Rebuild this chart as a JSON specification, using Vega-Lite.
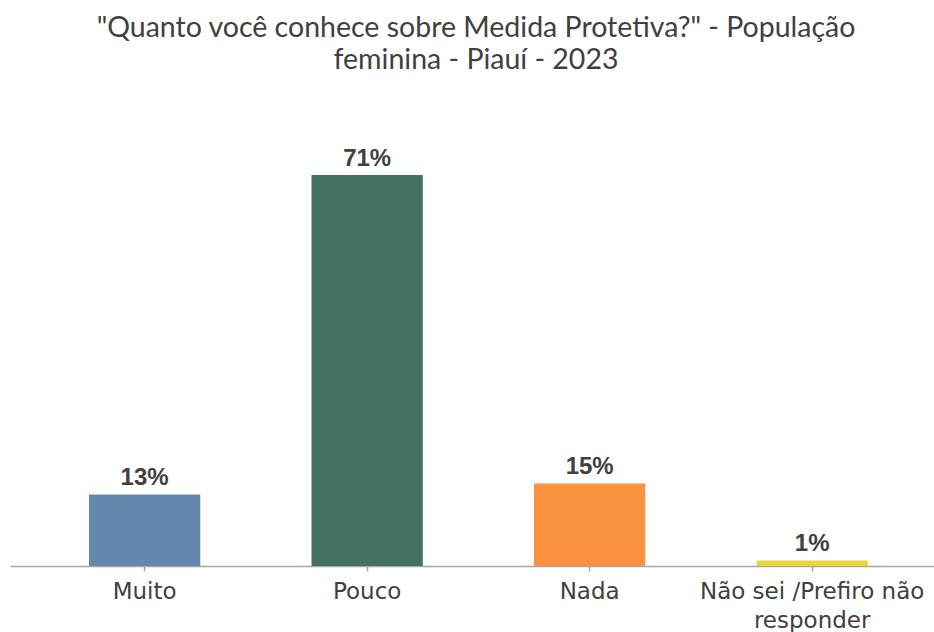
{
  "$schema": "https://vega.github.io/schema/vega-lite/v6.json",
  "autosize": "none",
  "width": 924,
  "height": 495.6,
  "padding": {"left": 10, "right": 0, "top": 70.4, "bottom": 66},
  "background": "white",
  "config": {"view": {"stroke": null}},
  "title": {
    "text": ["\"Quanto você conhece sobre Medida Protetiva?\" - População", "feminina - Piauí - 2023"],
    "font": "Lato",
    "fontSize": 28.5,
    "fontWeight": "normal",
    "color": "#404040",
    "lineHeight": 32,
    "anchor": "middle",
    "dx": 4,
    "offset": -4
  },
  "data": {
    "values": [
      {"resposta": "Muito", "pct": 13, "label": "13%"},
      {"resposta": "Pouco", "pct": 71, "label": "71%"},
      {"resposta": "Nada", "pct": 15, "label": "15%"},
      {"resposta": "Não sei /Prefiro não responder", "pct": 1, "label": "1%"}
    ]
  },
  "encoding": {
    "x": {
      "field": "resposta",
      "type": "nominal",
      "sort": null,
      "scale": {"paddingInner": 0.5, "paddingOuter": 0.3264, "align": 0.544},
      "axis": {
        "title": null,
        "labelAngle": 0,
        "labelFont": "DejaVu Sans",
        "labelFontSize": 23,
        "labelColor": "#404040",
        "labelPadding": 9,
        "labelLimit": 0,
        "labelLineHeight": 29,
        "labelExpr": "datum.label == 'Não sei /Prefiro não responder' ? ['Não sei /Prefiro não', 'responder'] : datum.label",
        "domainColor": "#a6a6a6",
        "domainWidth": 1.5,
        "ticks": true,
        "tickColor": "#a6a6a6",
        "tickSize": 5,
        "tickWidth": 1.5
      }
    },
    "y": {
      "field": "pct",
      "type": "quantitative",
      "scale": {"domain": [0, 90], "nice": false},
      "axis": null
    }
  },
  "layer": [
    {
      "mark": {"type": "bar"},
      "encoding": {
        "color": {
          "field": "resposta",
          "type": "nominal",
          "sort": null,
          "scale": {
            "domain": ["Muito", "Pouco", "Nada", "Não sei /Prefiro não responder"],
            "range": ["#6587ae", "#447262", "#fa923f", "#e5d83d"]
          },
          "legend": null
        }
      }
    },
    {
      "mark": {"type": "text", "baseline": "alphabetic", "dy": -9, "font": "Liberation Sans", "fontWeight": "bold", "fontSize": 24, "color": "#404040"},
      "encoding": {"text": {"field": "label"}}
    }
  ]
}
